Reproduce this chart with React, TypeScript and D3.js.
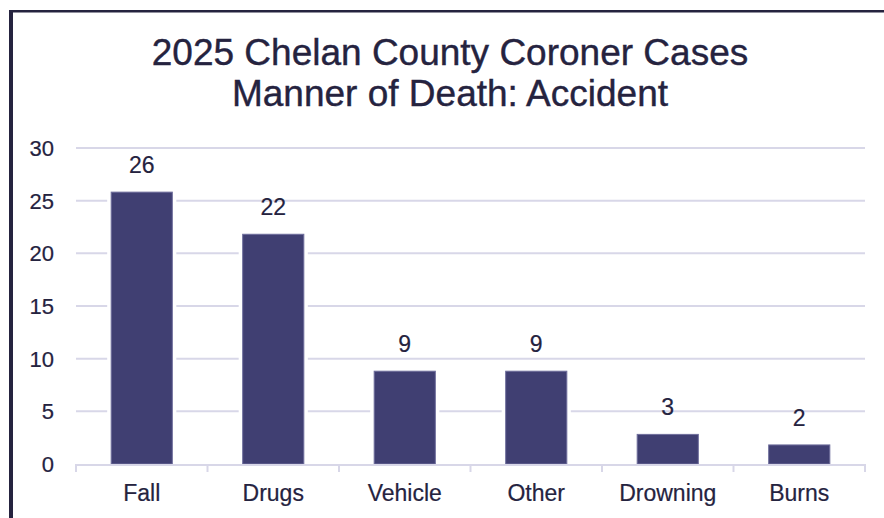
import { useEffect, useRef } from 'react';
import * as d3 from 'd3';

const CATEGORIES = ['Fall', 'Drugs', 'Vehicle', 'Other', 'Drowning', 'Burns'];
const CASES = [26, 22, 9, 9, 3, 2];
const Y_TICKS = [0, 5, 10, 15, 20, 25, 30];
const TITLE_LINES = ['2025 Chelan County Coroner Cases', 'Manner of Death: Accident'];

const W = 884, H = 518;
const INK = '#25233f';
const GRID = '#d8d7e8';
const BAR = '#403f72';
const FONT = '"Liberation Sans", Arial, sans-serif';

export default function App() {
  const svgRef = useRef<SVGSVGElement | null>(null);

  useEffect(() => {
    if (!svgRef.current) return;
    const svg = d3.select(svgRef.current);
    svg.selectAll('*').remove();

    const left = 76, right = 865, top = 148, bottom = 464;

    const x = d3.scaleBand<string>().domain(CATEGORIES).range([left, right])
      .paddingInner(0.535).paddingOuter(0.2675);
    const y = d3.scaleLinear().domain([0, 30]).range([bottom, top]);

    svg.append('rect').attr('width', W).attr('height', H).attr('fill', '#fff');

    // frame
    svg.append('rect').attr('x', 9).attr('y', 10).attr('width', W).attr('height', 2.5).attr('fill', INK);
    svg.append('rect').attr('x', 9).attr('y', 10).attr('width', 4).attr('height', H).attr('fill', INK);

    // title
    svg.append('g').selectAll('text').data(TITLE_LINES).enter().append('text')
      .attr('x', 450).attr('y', (_, i) => 65 + i * 41)
      .attr('text-anchor', 'middle')
      .style('font-family', FONT).style('font-size', '37px')
      .style('fill', INK).style('stroke', INK).style('stroke-width', 0.4)
      .text(d => d);

    // grid
    svg.append('g').selectAll('line').data(Y_TICKS.filter(t => t > 0)).enter().append('line')
      .attr('x1', left).attr('x2', right)
      .attr('y1', d => y(d)).attr('y2', d => y(d))
      .attr('stroke', GRID).attr('stroke-width', 2);

    // y labels
    svg.append('g').selectAll('text').data(Y_TICKS).enter().append('text')
      .attr('x', 54).attr('y', d => y(d)).attr('dy', '0.36em')
      .attr('text-anchor', 'end')
      .style('font-family', FONT).style('font-size', '22px')
      .style('fill', INK).style('stroke', INK).style('stroke-width', 0.2)
      .text(d => d);

    // bar halos then bars
    svg.append('g').selectAll('rect').data(CASES).enter().append('rect')
      .attr('x', (_, i) => x(CATEGORIES[i])! - 4)
      .attr('y', d => y(d) - 2)
      .attr('width', x.bandwidth() + 8)
      .attr('height', d => bottom - y(d) + 2)
      .attr('fill', '#fff');

    svg.append('g').selectAll('rect').data(CASES).enter().append('rect')
      .attr('x', (_, i) => x(CATEGORIES[i])!)
      .attr('y', d => y(d) + 2)
      .attr('width', x.bandwidth())
      .attr('height', d => bottom - y(d) - 2)
      .attr('fill', BAR).attr('stroke', '#6f6e9c').attr('stroke-width', 1);

    // data labels
    svg.append('g').selectAll('text').data(CASES).enter().append('text')
      .attr('x', (_, i) => x(CATEGORIES[i])! + x.bandwidth() / 2)
      .attr('y', d => y(d) - 17)
      .attr('text-anchor', 'middle')
      .style('font-family', FONT).style('font-size', '23px')
      .style('fill', INK).style('stroke', INK).style('stroke-width', 0.2)
      .text(d => d);

    // x axis
    svg.append('line').attr('x1', left).attr('x2', right).attr('y1', bottom + 1).attr('y2', bottom + 1)
      .attr('stroke', GRID).attr('stroke-width', 2);
    const step = x.step();
    svg.append('g').selectAll('line').data(d3.range(CATEGORIES.length + 1)).enter().append('line')
      .attr('x1', i => left + i * step).attr('x2', i => left + i * step)
      .attr('y1', bottom).attr('y2', bottom + 8)
      .attr('stroke', GRID).attr('stroke-width', 2);

    svg.append('g').selectAll('text').data(CATEGORIES).enter().append('text')
      .attr('x', d => x(d)! + x.bandwidth() / 2).attr('y', 501)
      .attr('text-anchor', 'middle')
      .style('font-family', FONT).style('font-size', '23px')
      .style('fill', INK).style('stroke', INK).style('stroke-width', 0.2)
      .text(d => d);
  }, []);

  return (
    <div style={{ position: 'fixed', left: 0, top: 0 }}>
      <svg ref={svgRef} width={W} height={H} style={{ display: 'block' }} />
    </div>
  );
}
